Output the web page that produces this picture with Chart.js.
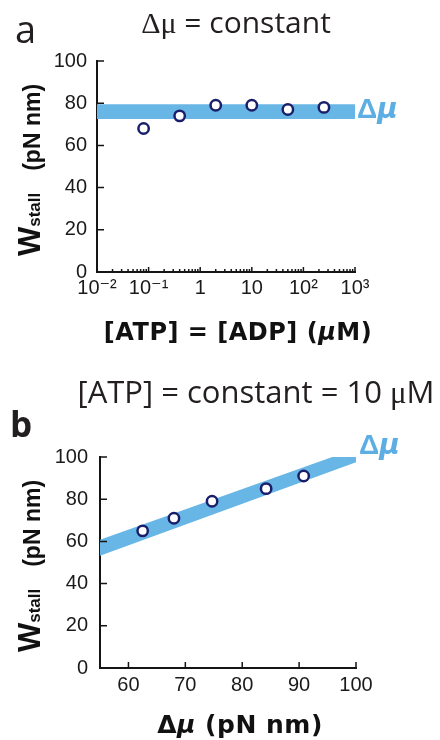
<!DOCTYPE html>
<html><head><meta charset="utf-8">
<script src="https://cdn.jsdelivr.net/npm/chart.js@4/dist/chart.umd.min.js"></script>
<style>
html,body{margin:0;padding:0;background:#fff;}
#wrap{position:relative;width:440px;height:740px;overflow:hidden;}
canvas{position:absolute;left:0;}
.t{position:absolute;white-space:nowrap;line-height:1;color:#231f20;}
.title{font-family:"Open Sans",sans-serif;font-size:30px;transform:translateX(-50%);}
.serif{font-family:"Liberation Serif",serif;}
.xt{font-family:"DejaVu Sans",sans-serif;font-weight:bold;font-size:24px;transform:translateX(-50%);color:#111;letter-spacing:0.5px;}
.yt{position:absolute;white-space:nowrap;font-family:"Liberation Sans",Arial,sans-serif;font-weight:bold;font-size:31px;line-height:32px;height:32px;color:#111;transform:translate(-50%,-50%) rotate(-90deg);}
.yt span{line-height:1;}
.dm{position:absolute;white-space:nowrap;line-height:1;color:#5caee3;}
.dm b{font-family:"Liberation Sans",Arial,sans-serif;font-weight:bold;}
.dm i{font-family:"DejaVu Sans",sans-serif;font-weight:bold;font-style:italic;}
</style></head><body>
<div id="wrap">
<canvas id="ca" width="440" height="370" style="top:0"></canvas>
<canvas id="cb" width="440" height="370" style="top:370px"></canvas>

<div class="t" style="left:15px;top:9px;font-family:'Open Sans',sans-serif;font-size:38px;">a</div>
<div class="t title" style="left:236px;top:7px;"><span class="serif">Δμ</span> = constant</div>
<div class="dm" style="left:357px;top:95px;font-size:28px;"><b>Δ</b><i>μ</i></div>
<div class="yt" style="left:30px;top:170px;"><span>W</span><span style="font-size:17px;">stall</span><span style="font-size:23px;margin-left:22px;">(pN nm)</span></div>
<div class="t xt" style="left:238px;top:320px;">[ATP] = [ADP] (<i>μ</i>M)</div>

<div class="t" style="left:10px;top:406px;font-family:'Open Sans',sans-serif;font-weight:bold;font-size:35px;">b</div>
<div class="t title" style="left:256px;top:376px;font-size:31px;">[ATP] = constant = 10 <span class="serif">μ</span>M</div>
<div class="dm" style="left:359px;top:431px;font-size:28px;"><b>Δ</b><i>μ</i></div>
<div class="yt" style="left:30px;top:566px;"><span>W</span><span style="font-size:17px;">stall</span><span style="font-size:23px;margin-left:22px;">(pN nm)</span></div>
<div class="t xt" style="left:240px;top:712px;font-size:25px;">Δ<i>μ</i> (pN nm)</div>
</div>
<script>
// ---------- data ----------
// panel a: [ATP] = [ADP] (µM) vs W_stall
const atpConc   = [0.08, 0.4, 2, 10, 50, 250];
const wStallA   = [68, 74, 79, 79, 77, 78];
const bandAx    = [0.01, 1000];
const bandAUp   = [79.5, 79.5];
const bandALow  = [72.5, 72.5];
const logTickValues = [0.01, 0.1, 1, 10, 100, 1000];
const logTickLabels = ['10\u207B\u00B2', '10\u207B\u00B9', '1', '10', '10\u00B2', '10\u00B3'];
// panel b: Δµ vs W_stall
const deltaMu   = [62.5, 68, 74.7, 84.2, 90.8];
const wStallB   = [65, 71, 79, 85, 91];
const bandBx    = [55, 100];
const bandBUp   = [60.8, 104];
const bandBLow  = [53.2, 97.5];
const yTickValues  = [0, 20, 40, 60, 80, 100];
const xTickValuesB = [60, 70, 80, 90, 100];

// ---------- styles ----------
const BAND = '#68b6e6';
const PT_EDGE = '#1b1f6b';
const AXIS = '#151515';
const TICKFONT = {family: "'Liberation Sans', Arial, 'DejaVu Sans', sans-serif", size: 20};

const minorLog = [];
logTickValues.slice(0, -1).forEach(d => { for (let k = 2; k <= 9; k++) minorLog.push(d * k); });

function tickPlugin(cfg) {
  return {
    id: 'insideTicks',
    afterDatasetsDraw(chart) {
      const {ctx, chartArea: a, scales: {x, y}} = chart;
      ctx.save();
      ctx.strokeStyle = AXIS; ctx.lineWidth = 1.5;
      ctx.beginPath();
      cfg.y.forEach(v => { const p = y.getPixelForValue(v); ctx.moveTo(a.left, p); ctx.lineTo(a.left + cfg.yLen, p); });
      cfg.xMajor.forEach(v => { const p = x.getPixelForValue(v); ctx.moveTo(p, a.bottom); ctx.lineTo(p, a.bottom - cfg.xLen); });
      (cfg.xMinor || []).forEach(v => { const p = x.getPixelForValue(v); ctx.moveTo(p, a.bottom); ctx.lineTo(p, a.bottom - cfg.xMinorLen); });
      ctx.stroke();
      ctx.restore();
    }
  };
}

function band(xs, ys, fill) {
  return {
    data: xs.map((v, i) => ({x: v, y: ys[i]})),
    showLine: true, borderColor: 'rgba(0,0,0,0)', borderWidth: 1,
    backgroundColor: BAND, pointRadius: 0, fill: fill, order: 2, tension: 0
  };
}
function pts(xs, ys) {
  return {
    data: xs.map((v, i) => ({x: v, y: ys[i]})),
    showLine: false, pointRadius: 5.2, pointBorderWidth: 2.5,
    pointBackgroundColor: '#fff', pointBorderColor: PT_EDGE, order: 0
  };
}
const GRID = {display: false, drawTicks: false, drawOnChartArea: false};
function yScale(width, pad) {
  return {
    min: 0, max: 100,
    afterBuildTicks: s => { s.ticks = yTickValues.map(v => ({value: v})); },
    ticks: {color: '#1a1a1a', font: TICKFONT, padding: pad},
    grid: GRID,
    border: {display: true, color: AXIS, width: 2},
    afterFit: s => { s.width = width; }
  };
}

new Chart(document.getElementById('ca'), {
  type: 'scatter',
  data: {datasets: [band(bandAx, bandAUp, false), band(bandAx, bandALow, '-1'), pts(atpConc, wStallA)]},
  options: {
    responsive: false, animation: false, events: [],
    layout: {padding: {left: 0, top: 61, right: 85, bottom: 0}},
    plugins: {legend: {display: false}, tooltip: {enabled: false}},
    scales: {
      x: {
        type: 'logarithmic', min: 0.01, max: 1000,
        afterBuildTicks: s => { s.ticks = logTickValues.map(v => ({value: v})); },
        ticks: {autoSkip: false, maxRotation: 0, color: '#1a1a1a', font: TICKFONT, padding: 4,
                callback: (v, i) => logTickLabels[i]},
        grid: GRID,
        border: {display: true, color: AXIS, width: 2},
        afterFit: s => { s.height = 98; }
      },
      y: yScale(97, 10)
    }
  },
  plugins: [tickPlugin({y: yTickValues, yLen: 7, xMajor: logTickValues, xLen: 5, xMinor: minorLog, xMinorLen: 3})]
});

new Chart(document.getElementById('cb'), {
  type: 'scatter',
  data: {datasets: [band(bandBx, bandBUp, false), band(bandBx, bandBLow, '-1'), pts(deltaMu, wStallB)]},
  options: {
    responsive: false, animation: false, events: [],
    layout: {padding: {left: 0, top: 87, right: 84, bottom: 0}},
    plugins: {legend: {display: false}, tooltip: {enabled: false}},
    scales: {
      x: {
        type: 'linear', min: 55, max: 100,
        afterBuildTicks: s => { s.ticks = xTickValuesB.map(v => ({value: v})); },
        ticks: {autoSkip: false, maxRotation: 0, color: '#1a1a1a', font: TICKFONT, padding: 5},
        grid: GRID,
        border: {display: true, color: AXIS, width: 2},
        afterFit: s => { s.height = 72; }
      },
      y: yScale(100, 12)
    }
  },
  plugins: [tickPlugin({y: yTickValues, yLen: 7, xMajor: xTickValuesB, xLen: 6})]
});
</script>
</body></html>
